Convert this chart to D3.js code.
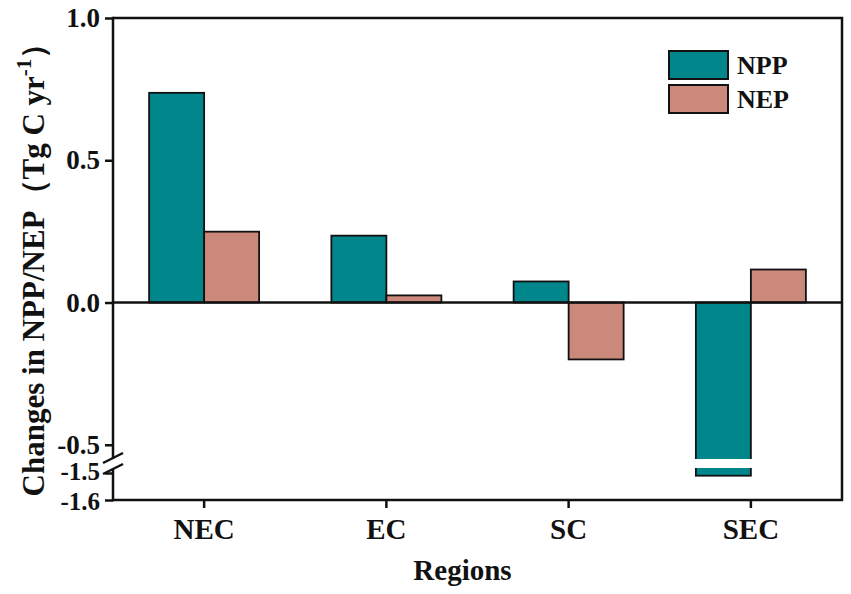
<!DOCTYPE html>
<html>
<head>
<meta charset="utf-8">
<script src="https://cdn.jsdelivr.net/npm/d3@7"></script>
<style>
  body { margin: 0; background: white; }
  text { font-family: "Liberation Serif", "Times New Roman", serif; font-weight: bold; }
</style>
</head>
<body>
<div id="chart"></div>
<script>
// data
const regions = ["NEC", "EC", "SC", "SEC"];
const series = ["NPP", "NEP"];
const nppValues = [0.737, 0.235, 0.074, -1.51];
const nepValues = [0.249, 0.025, -0.2, 0.116];
const upperTicks = [1.0, 0.5, 0.0, -0.5];
const lowerTicks = [-1.5, -1.6];
const colors = { NPP: "#00868B", NEP: "#CB897C" };

const width = 851, height = 594;
const plotLeft = 113, plotRight = 842, plotTop = 18, plotBottom = 500;
const breakTop = 459, breakBottom = 468;

const svg = d3.select("#chart").append("svg")
  .attr("width", width).attr("height", height)
  .style("background", "white");

// broken y axis: two linear pieces
const yUpper = d3.scaleLinear().domain([-0.55, 1.0]).range([breakTop, plotTop]);
const yLower = d3.scaleLinear().domain([-1.6, -1.6 + (plotBottom - breakBottom) / 270]).range([plotBottom, breakBottom]);
const y = v => v >= -0.55 ? yUpper(v) : yLower(v);

const x0 = d3.scaleBand().domain(regions).range([plotLeft, plotRight]);
const x1 = d3.scaleBand().domain(series).range([-55, 55]);

const rows = regions.map((r, i) => ({ region: r, NPP: nppValues[i], NEP: nepValues[i] }));

// bars
const groups = svg.append("g").selectAll("g").data(rows).enter().append("g")
  .attr("transform", d => `translate(${x0(d.region) + x0.bandwidth() / 2},0)`);

groups.selectAll("rect").data(d => series.map(s => ({ key: s, value: d[s] }))).enter()
  .append("rect")
  .attr("x", d => x1(d.key))
  .attr("width", x1.bandwidth())
  .attr("y", d => Math.min(y(d.value), y(0)))
  .attr("height", d => Math.abs(y(d.value) - y(0)))
  .attr("fill", d => colors[d.key])
  .attr("stroke", "#111")
  .attr("stroke-width", 1.8);

// white gap where bars cross the break
svg.append("rect")
  .attr("x", plotLeft + 2).attr("y", breakTop)
  .attr("width", plotRight - plotLeft - 4).attr("height", breakBottom - breakTop)
  .attr("fill", "white");

// zero line
svg.append("line")
  .attr("x1", plotLeft).attr("x2", plotRight)
  .attr("y1", y(0)).attr("y2", y(0))
  .attr("stroke", "#111").attr("stroke-width", 2.5);

// frame
svg.append("path")
  .attr("d", `M${plotLeft},${plotTop}H${plotRight}V${plotBottom}H${plotLeft}`)
  .attr("fill", "none").attr("stroke", "#111").attr("stroke-width", 2.5);
svg.append("line").attr("x1", plotLeft).attr("x2", plotLeft).attr("y1", plotTop - 1.25).attr("y2", breakTop)
  .attr("stroke", "#111").attr("stroke-width", 2.5);
svg.append("line").attr("x1", plotLeft).attr("x2", plotLeft).attr("y1", breakBottom).attr("y2", plotBottom + 1.25)
  .attr("stroke", "#111").attr("stroke-width", 2.5);

// y axes
const yAxisUpper = d3.axisLeft(yUpper).tickValues(upperTicks).tickSize(8).tickPadding(5);
const yAxisLower = d3.axisLeft(yLower).tickValues(lowerTicks).tickSize(8).tickPadding(5);
[yAxisUpper, yAxisLower].forEach((ax, k) => {
  const g = svg.append("g").attr("transform", `translate(${plotLeft},0)`).call(ax);
  g.select(".domain").remove();
  g.selectAll(".tick line").attr("stroke", "#111").attr("stroke-width", 2.5);
  g.selectAll(".tick text").style("font-size", k === 0 ? "27px" : "25px").attr("fill", "#111")
    .text(d => d3.format(".1f")(d).replace("−", "-"));
  if (k === 1) {
    // pull the two tight labels slightly apart
    g.selectAll(".tick text").attr("y", d => d === -1.5 ? -2 : 1);
  }
});

// break marks
[breakTop - 1, breakBottom + 1].forEach(yy => {
  svg.append("line")
    .attr("x1", plotLeft - 10).attr("y1", yy + 5)
    .attr("x2", plotLeft + 10).attr("y2", yy - 5)
    .attr("stroke", "#111").attr("stroke-width", 2.5);
});

// x axis
const xAxis = d3.axisBottom(x0).tickSize(8).tickPadding(10);
const gx = svg.append("g").attr("transform", `translate(0,${plotBottom})`).call(xAxis);
gx.select(".domain").remove();
gx.selectAll(".tick line").attr("stroke", "#111").attr("stroke-width", 2.5);
gx.selectAll(".tick text").style("font-size", "29px").attr("fill", "#111");

// axis titles
svg.append("text")
  .attr("x", (plotLeft + plotRight) / 2 - 15).attr("y", 580)
  .attr("text-anchor", "middle").style("font-size", "29px").attr("fill", "#111")
  .text("Regions");

const yt = svg.append("text")
  .attr("transform", `translate(44,${262}) rotate(-90)`)
  .attr("text-anchor", "middle").style("font-size", "31px").attr("fill", "#111");
yt.append("tspan").text("Changes in NPP/NEP（Tg C yr");
yt.append("tspan").attr("dy", -13).style("font-size", "21px").text("-1");
yt.append("tspan").attr("dy", 13).text("）");

// legend
const legend = svg.append("g").attr("transform", "translate(669,51)");
series.forEach((s, i) => {
  legend.append("rect")
    .attr("x", 0).attr("y", i * 34)
    .attr("width", 59).attr("height", 28)
    .attr("fill", colors[s]).attr("stroke", "#111").attr("stroke-width", 2);
  legend.append("text")
    .attr("x", 68).attr("y", i * 34 + 23)
    .style("font-size", "26px").attr("fill", "#111")
    .text(s);
});
</script>
</body>
</html>
